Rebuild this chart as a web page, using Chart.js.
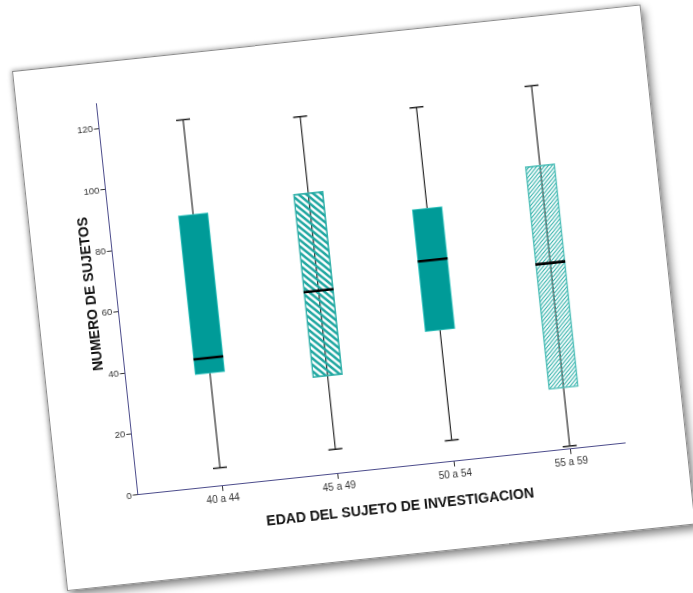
<!DOCTYPE html>
<html><head><meta charset="utf-8">
<script src="https://cdn.jsdelivr.net/npm/chart.js@4.4.0/dist/chart.umd.min.js"></script>
<style>
html,body{margin:0;padding:0;background:#fff;width:693px;height:593px;overflow:hidden;}
#page{position:absolute;left:11.7px;top:71px;width:632px;height:523px;box-sizing:border-box;border:1px solid #8d8d8d;background:#fff;transform-origin:0 0;transform:rotate(-6.05deg);box-shadow:3px 5px 9px rgba(0,0,0,0.45),-1px -1px 4px rgba(0,0,0,0.25);}
#page canvas{position:absolute;left:0;top:0;}
</style></head>
<body><div id="page"><canvas id="c" width="630" height="521"></canvas></div>
<script>
// ---- data ----
const categories = ['40 a 44', '45 a 49', '50 a 54', '55 a 59'];
const minVals    = [6, 8, 7, 1];
const q1Vals     = [37, 32, 43, 20];
const medianVals = [42, 60, 66, 61];
const q3Vals     = [89, 92, 83, 93];
const maxVals    = [120, 117, 116, 119];
const yTicks     = [0, 20, 40, 60, 80, 100, 120];
const xTitle = 'EDAD DEL SUJETO DE INVESTIGACION';
const yTitle = 'NUMERO DE SUJETOS';

// ---- hatch patterns ----
function hatch(size, width, color, dir) {
  const t = document.createElement('canvas');
  t.width = size; t.height = size;
  const g = t.getContext('2d');
  g.strokeStyle = color; g.lineWidth = width; g.lineCap = 'square';
  for (let c = -size; c <= size; c += size) {
    g.beginPath();
    if (dir === '\\') { g.moveTo(-1, c - 1); g.lineTo(size + 1, c + size + 1); }
    else { g.moveTo(-1, size - c + 1); g.lineTo(size + 1, -c - 1); }
    g.stroke();
  }
  return g.createPattern(t, 'repeat');
}
const solid = '#009b98';
const hatchA = hatch(7, 2.6, '#22a8a2', '\\');
const hatchB = hatch(4, 1.2, '#3ab4ad', '/');
const boxFill = [solid, hatchA, solid, hatchB];
const boxEdge = ['#36c6c1', '#3cb5ae', '#36c6c1', '#5cc4be'];

const whiskerData = [];
categories.forEach((c, i) => {
  whiskerData.push({x: i, y: minVals[i]}, {x: i, y: maxVals[i]}, {x: i, y: null});
});
const capData = [];
categories.forEach((c, i) => { capData.push({x: i, y: minVals[i]}, {x: i, y: maxVals[i]}); });

const titlesPlugin = {
  id: 'axisTitles',
  afterDraw(chart) {
    const {ctx, scales: {x}, chartArea} = chart;
    ctx.save();
    ctx.font = 'bold 14px "Liberation Sans", Arial, sans-serif';
    ctx.fillStyle = '#111';
    ctx.textAlign = 'center';
    ctx.textBaseline = 'middle';
    ctx.fillText(xTitle, x.getPixelForValue((categories.length - 1) / 2), chartArea.bottom + 40.6);
    ctx.translate(chartArea.left - 25.6, 229);
    ctx.rotate(-Math.PI / 2);
    ctx.fillText(yTitle, 0, 0);
    ctx.restore();
  }
};

const font = '"Liberation Sans", Arial, sans-serif';
new Chart(document.getElementById('c'), {
  type: 'bar',
  data: {
    datasets: [
      {type: 'line', data: whiskerData, borderColor: '#2a2a2a', borderWidth: 1.2, pointRadius: 0, spanGaps: false, order: 3},
      {type: 'bar', data: categories.map((c, i) => ({x: i, y: [q1Vals[i], q3Vals[i]]})),
       backgroundColor: boxFill, borderColor: boxEdge, borderWidth: 1, borderSkipped: false, barThickness: 30, order: 2},
      {type: 'line', data: capData, showLine: false, pointStyle: 'line', pointRadius: 7, pointBorderWidth: 1.5,
       pointBorderColor: '#222', pointBackgroundColor: '#222', order: 1},
      {type: 'line', data: categories.map((c, i) => ({x: i, y: medianVals[i]})), showLine: false, pointStyle: 'line',
       pointRadius: 15, pointBorderWidth: 2.6, pointBorderColor: '#000', pointBackgroundColor: '#000', order: 0}
    ]
  },
  options: {
    responsive: false, animation: false, events: [],
    layout: {padding: {left: 0, top: 40.3, right: 60.6, bottom: 0}},
    plugins: {legend: {display: false}, tooltip: {enabled: false}},
    scales: {
      x: {
        type: 'linear', min: -0.725, max: 3.474, offset: false,
        afterFit: s => { s.height = 87.1; },
        afterBuildTicks: s => { s.ticks = categories.map((c, i) => ({value: i})); },
        ticks: {callback: v => categories[Math.round(v)], color: '#333', font: {family: font, size: 10}, padding: 2, maxRotation: 0, includeBounds: false},
        grid: {drawOnChartArea: false, drawTicks: true, tickLength: 5, color: '#333', offset: false},
        border: {color: '#4d4d8c', width: 1}
      },
      y: {
        min: 0, max: 128.2,
        afterFit: s => { s.width = 79.4; },
        afterBuildTicks: s => { s.ticks = yTicks.map(v => ({value: v})); },
        ticks: {color: '#333', font: {family: font, size: 9.5}, padding: 1, includeBounds: false},
        grid: {drawOnChartArea: false, drawTicks: true, tickLength: 5, color: '#333'},
        border: {color: '#4d4d8c', width: 1}
      }
    }
  },
  plugins: [titlesPlugin]
});
</script>
</body></html>
